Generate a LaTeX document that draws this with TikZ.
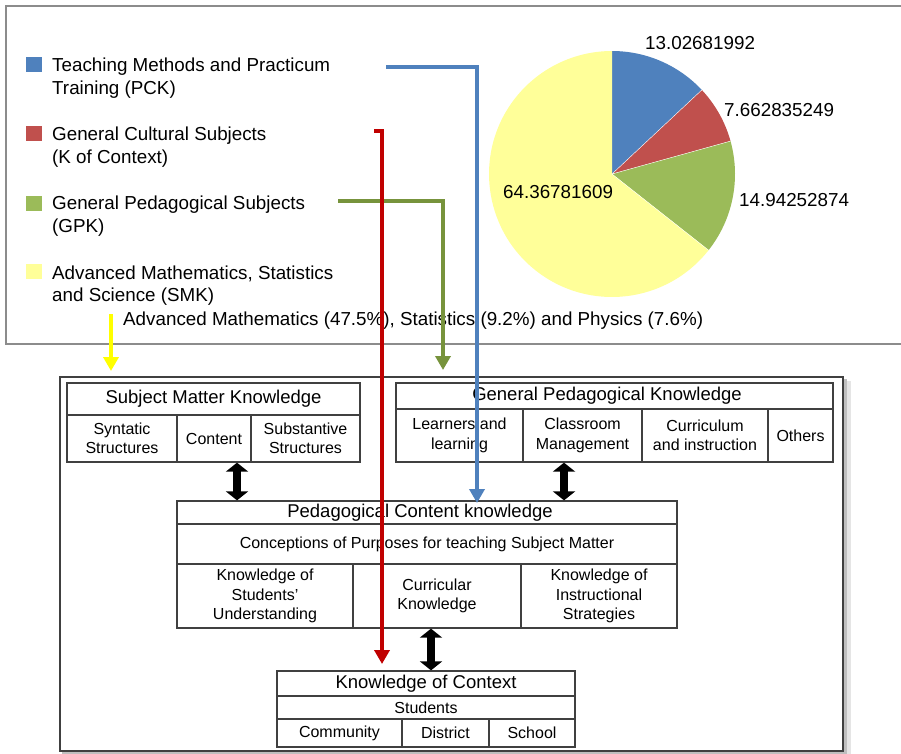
\documentclass[tikz,border=0pt]{standalone}
\usepackage{fontspec}
\setmainfont{Liberation Sans}
\usetikzlibrary{arrows.meta,calc}
\definecolor{pieblue}{HTML}{4F81BD}
\definecolor{piered}{HTML}{C0504D}
\definecolor{piegreen}{HTML}{9BBB59}
\definecolor{pieyellow}{HTML}{FFFF99}
\definecolor{arrred}{HTML}{C00000}
\definecolor{arrgreen}{HTML}{77933C}
\definecolor{arrblue}{HTML}{4F81BD}
\definecolor{arryellow}{HTML}{FFFF00}
\definecolor{boxline}{HTML}{404040}
\definecolor{framegray}{HTML}{8C8C8C}
\newcommand{\cellfnt}{\fontsize{16}{19.5}\selectfont}
\newcommand{\bigfnt}{\fontsize{18.5}{22.7}\selectfont}
\newcommand{\legfnt}{\fontsize{18.8}{22.7}\selectfont}
\begin{document}
\begin{tikzpicture}[x=1pt,y=-1pt,
  cellbox/.style={draw=boxline, line width=1.3pt, inner sep=1pt, align=center, font=\cellfnt, text=black},
  hdrbox/.style={cellbox, font=\bigfnt},
  legtext/.style={anchor=base west, inner sep=0pt, font=\legfnt},
  legsq/.style={inner sep=0pt, minimum width=16pt, minimum height=15pt},
  dbl/.style={line width=8pt, black, {Triangle[width=22pt,length=9pt]}-{Triangle[width=22pt,length=9pt]}},
  carrow/.style={line width=4.5pt, -{Triangle[width=15pt,length=14pt]}}
]
\useasboundingbox (0,0) rectangle (901,753);
\fill[white] (0,0) rectangle (901,753);

% ---------- top frame ----------
\draw[framegray, line width=1.5pt] (901,6) -- (6,6) -- (6,344) -- (901,344);

% ---------- legend ----------
\node[legsq, fill=pieblue]   (sqb) at (34,64.5) {};
\node[legsq, fill=piered]    (sqr) at (34,133) {};
\node[legsq, fill=piegreen]  (sqg) at (34,203) {};
\node[legsq, fill=pieyellow] (sqy) at (34,271.5) {};
\node[legtext] (lb1) at (52,71) {Teaching Methods and Practicum};
\node[legtext] (lb2) at (52,94) {Training (PCK)};
\node[legtext] (lr1) at (52,140.5) {General Cultural Subjects};
\node[legtext] (lr2) at (52,163) {(K of Context)};
\node[legtext] (lg1) at (52,209.5) {General Pedagogical Subjects};
\node[legtext] (lg2) at (52,232) {(GPK)};
\node[legtext] (ly1) at (52,279) {Advanced Mathematics, Statistics};
\node[legtext] (ly2) at (52,301.5) {and Science (SMK)};
\node[legtext] (lsub) at (123,325) {Advanced Mathematics (47.5\%), Statistics (9.2\%) and Physics (7.6\%)};

% ---------- pie ----------
\begin{scope}[shift={(612,174)}, y=1pt]
  \fill[pieblue]   (0,0) -- (90:123) arc[start angle=90, end angle=43.104, radius=123] -- cycle;
  \fill[piered]    (0,0) -- (43.104:123) arc[start angle=43.104, end angle=15.518, radius=123] -- cycle;
  \fill[piegreen]  (0,0) -- (15.518:123) arc[start angle=15.518, end angle=-38.275, radius=123] -- cycle;
  \fill[pieyellow] (0,0) -- (-38.275:123) arc[start angle=-38.275, end angle=-270, radius=123] -- cycle;
  \draw[white, line width=0.4pt] (0,0) -- (43.104:123) (0,0) -- (15.518:123) (0,0) -- (-38.275:123);
\end{scope}
\node[legtext] (p1) at (645,49) {13.02681992};
\node[legtext] (p2) at (724,116.7) {7.662835249};
\node[legtext] (p3) at (739,206.7) {14.94252874};
\node[legtext] (p4) at (503,198.3) {64.36781609};

% ---------- framework outer box ----------
\fill[black!10] (64,381) rectangle (851,757);
\fill[black!25] (62,379) rectangle (847,755);
\draw[boxline, fill=white, line width=2pt] (60,377) rectangle (843,751);

% Subject Matter Knowledge
\node[hdrbox, minimum width=293pt, minimum height=32pt] (smkh) at (213.5,399) {Subject Matter Knowledge};
\node[cellbox, minimum width=110pt, minimum height=47pt] (smk1) at (122,438.5) {Syntatic\\Structures};
\node[cellbox, minimum width=74pt, minimum height=47pt] (smk2) at (214,438.5) {Content};
\node[cellbox, minimum width=109pt, minimum height=47pt] (smk3) at (305.5,438.5) {Substantive\\Structures};

% General Pedagogical Knowledge
\node[hdrbox, minimum width=437pt, minimum height=26pt] (gpkh) at (614.5,396) {};
\node[inner sep=0pt, font=\bigfnt] (gpkt) at (607,396) {General Pedagogical Knowledge};
\node[cellbox, minimum width=127pt, minimum height=53pt] (gpk1) at (459.5,435.5) {Learners and\\learning};
\node[cellbox, minimum width=119pt, minimum height=53pt] (gpk2) at (582.5,435.5) {Classroom\\Management};
\node[cellbox, minimum width=126pt, minimum height=53pt] (gpk3) at (705,435.5) {Curriculum\\and instruction};
\node[cellbox, minimum width=65pt, minimum height=53pt] (gpk4) at (800.5,435.5) {Others};

% Pedagogical Content Knowledge
\node[hdrbox, minimum width=500pt, minimum height=23pt] (pckh) at (427,512.5) {};
\node[inner sep=0pt, font=\bigfnt] (pckt) at (420,512.5) {Pedagogical Content knowledge};
\node[cellbox, minimum width=500pt, minimum height=40pt] (pckc) at (427,544) {Conceptions of Purposes for teaching Subject Matter};
\node[cellbox, minimum width=176pt, minimum height=64pt] (pck1) at (265,596) {Knowledge of\\Students’\\Understanding};
\node[cellbox, minimum width=168pt, minimum height=64pt] (pck2) at (437,596) {Curricular\\Knowledge};
\node[cellbox, minimum width=156pt, minimum height=64pt] (pck3) at (599,596) {Knowledge of\\Instructional\\Strategies};

% Knowledge of Context
\node[hdrbox, minimum width=298pt, minimum height=25pt] (koch) at (426,683.5) {Knowledge of Context};
\node[cellbox, minimum width=298pt, minimum height=23pt] (kocs) at (426,707.5) {Students};
\node[cellbox, minimum width=125pt, minimum height=28pt] (koc1) at (339.5,733) {Community};
\node[cellbox, minimum width=87pt, minimum height=28pt] (koc2) at (445.5,733) {District};
\node[cellbox, minimum width=86pt, minimum height=28pt] (koc3) at (532,733) {School};

% black double arrows
\draw[dbl] ([xshift=23pt]smk2.south) -- ([xshift=23pt]smk2.south |- pckh.north);
\draw[dbl] ([xshift=-18.5pt]gpk2.south) -- ([xshift=-18.5pt]gpk2.south |- pckh.north);
\draw[dbl] ([xshift=5pt]koch.north |- pck2.south) -- ([xshift=5pt]koch.north);

% ---------- coloured arrows ----------
\coordinate (ys) at (111,314);
\coordinate (yend) at (111,371);
\coordinate (gs) at (338,201);
\coordinate (gend) at (443,370);
\coordinate (bs) at (386,67);
\coordinate (bend) at (477,503);
\coordinate (rs) at (374,131);
\coordinate (rend) at (382,664);
\draw[carrow, arryellow] (ys) -- (yend);
\draw[carrow, arrgreen] (gs) -| (gend);
\draw[carrow, arrblue] (bs) -| (bend);
\draw[carrow, arrred] (rs) -| (rend);
\end{tikzpicture}
\end{document}
